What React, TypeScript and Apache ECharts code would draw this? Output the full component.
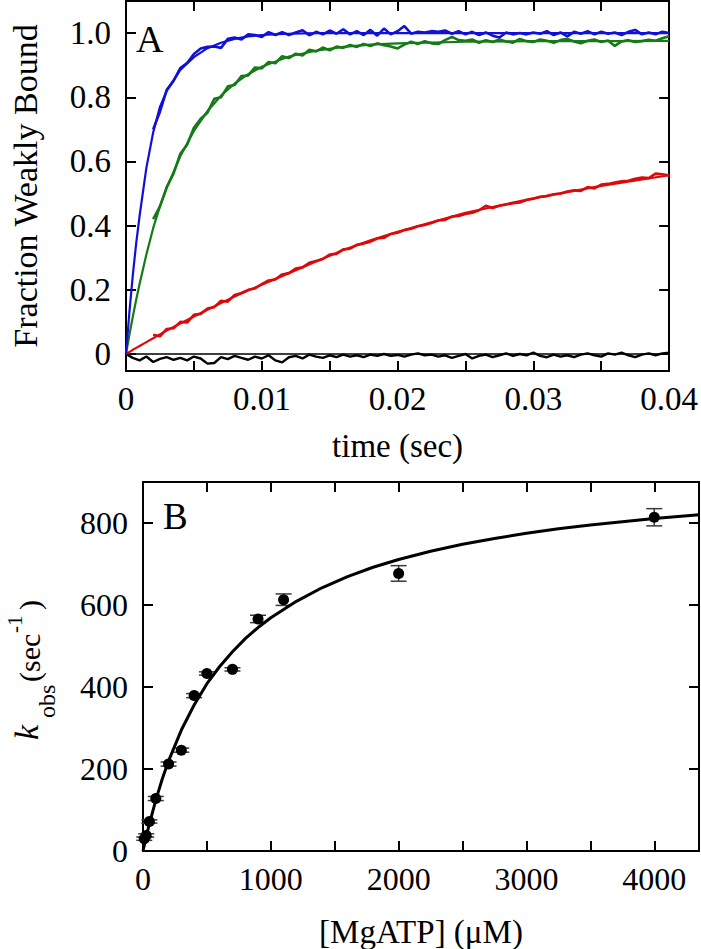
import React, { useEffect, useRef } from 'react';
import * as echarts from 'echarts';

const FONT = 'Liberation Serif';

// ---------- Panel A (time courses) ----------
const TRACE_T0 = 0.002; // colored traces start after dead time
const TRACE_DT = 0.0005;
const BLACK_T0 = 0;

const blueData = [0.70,0.755,0.823,0.851,0.891,0.907,0.935,0.952,0.957,0.958,
  0.954,0.982,0.986,0.98,0.996,0.994,0.988,1.003,0.994,1.003,
  0.994,1.002,1.009,0.993,1.004,0.996,1.008,0.998,1.012,0.996,
  1.006,0.994,1.01,0.992,1.014,0.996,1.006,1.022,0.998,1.004,
  1.002,1.006,1.004,1.008,0.998,1.006,0.996,1.004,0.994,1.002,
  0.992,0.986,1.002,0.996,1.0,0.996,1.002,0.998,1.006,0.994,
  1.002,0.99,1.004,0.998,1.006,0.996,1.004,0.998,1.002,0.994,
  1.004,1.01,0.996,1.002,0.996,1.004,1.0];

const greenData = [0.42,0.46,0.52,0.562,0.624,0.652,0.705,0.733,0.752,0.795,
  0.8,0.834,0.838,0.866,0.868,0.893,0.89,0.91,0.906,0.928,
  0.922,0.936,0.93,0.948,0.943,0.955,0.946,0.958,0.954,0.963,
  0.957,0.966,0.96,0.968,0.962,0.958,0.952,0.964,0.973,0.966,
  0.975,0.968,0.966,0.978,0.988,0.978,0.976,0.98,0.97,0.978,
  0.972,0.98,0.974,0.97,0.982,0.975,0.972,0.98,0.976,0.97,
  0.978,0.982,0.974,0.968,0.976,0.98,0.972,0.977,0.96,0.974,
  0.978,0.972,0.975,0.979,0.976,0.984,0.99];

const redData = [0.06,0.055,0.078,0.08,0.1,0.098,0.122,0.125,0.142,0.146,
  0.166,0.163,0.184,0.19,0.2,0.204,0.218,0.229,0.232,0.248,
  0.252,0.266,0.27,0.284,0.29,0.296,0.31,0.312,0.326,0.328,
  0.34,0.344,0.35,0.36,0.362,0.374,0.378,0.386,0.39,0.398,
  0.402,0.408,0.416,0.418,0.428,0.43,0.436,0.44,0.448,0.462,
  0.455,0.462,0.466,0.47,0.472,0.48,0.484,0.49,0.492,0.498,
  0.5,0.506,0.51,0.508,0.52,0.516,0.528,0.53,0.534,0.538,
  0.54,0.546,0.55,0.548,0.562,0.56,0.556];

const blackData = [0.0,-0.012,-0.02,-0.008,-0.025,-0.015,-0.01,-0.018,-0.012,-0.02,
  -0.008,-0.014,-0.03,-0.028,-0.01,-0.016,-0.006,-0.012,-0.018,-0.008,
  -0.014,-0.004,-0.02,-0.026,-0.01,-0.006,-0.014,-0.002,-0.008,-0.012,
  -0.004,-0.01,-0.002,-0.008,-0.004,-0.01,-0.002,-0.006,0.0,-0.006,
  -0.003,-0.008,-0.002,0.002,-0.004,-0.002,-0.008,-0.004,-0.012,-0.006,
  0.0,-0.014,-0.006,-0.002,-0.01,-0.004,0.002,-0.006,0.0,-0.004,
  0.004,-0.006,-0.01,-0.002,-0.008,-0.004,-0.01,-0.002,0.002,-0.004,
  -0.008,0.002,-0.002,0.004,-0.004,-0.01,-0.002,0.002,-0.004,0.002,
  0.004];

const fitT = [0,0.00025,0.0005,0.00075,0.001,0.0015,0.002,0.0025,0.003,0.004,0.005,0.006,0.007,0.008,0.009,0.01,0.012,0.014,0.016,0.018,0.02,0.025,0.03,0.035,0.04];
const blueFit = [0,0.13,0.245,0.345,0.43,0.58,0.69,0.77,0.82,0.885,0.925,0.953,0.97,0.982,0.99,0.994,0.998,1.0,1.0,1.0,1.0,1.0,1.0,1.0,1.0];
const greenFit = [0,0.06,0.116,0.169,0.218,0.31,0.392,0.46,0.518,0.616,0.695,0.757,0.805,0.843,0.872,0.895,0.927,0.945,0.957,0.964,0.968,0.973,0.975,0.975,0.976];
const redFit = [0,0.006,0.013,0.019,0.025,0.037,0.049,0.061,0.073,0.095,0.117,0.138,0.159,0.179,0.198,0.216,0.252,0.288,0.324,0.354,0.381,0.44,0.485,0.524,0.557];
const blackFit = [0,0,0,0,0,0,0,0,0,0,0,0,0,0,0,0,0,0,0,0,0,0,0,0,0];

const topXTicks = [0,0.005,0.01,0.015,0.02,0.025,0.03,0.035,0.04];
const topXLabels = [0,0.01,0.02,0.03,0.04];
const topYTicks = [0,0.2,0.4,0.6,0.8,1.0];

// ---------- Panel B (kobs vs [MgATP]) ----------
const atpConc = [10,25,50,100,200,300,400,500,700,900,1100,2000,4000];
const kobs = [30,38,72,128,212,246,379,433,443,566,613,677,814];
const kobsErr = [4,4,4,5,5,5,5,4,4,9,14,19,21];
const fitConc = [0,25,50,100,150,200,300,400,500,600,700,800,900,1000,1200,1400,1600,1800,2000,2250,2500,2750,3000,3250,3500,3750,4000,4350];
const fitK = [0,35,66,124,175,220,295,356,408,450,486,518,545,569,609,642,669,692,711,731,748,762,775,786,795,803,811,820];
const botXTicks = [0,500,1000,1500,2000,2500,3000,3500,4000];
const botXLabels = [0,1000,2000,3000,4000];
const botYTicks = [0,200,400,600,800];

const BLUE = '#1010d8';
const GREEN = '#167a16';
const RED = '#dc0a0a';
const BLACK = '#000000';

function trace(t0: number, dt: number, vals: number[]) {
  return vals.map((v, i) => [t0 + i * dt, v]);
}
function pairs(xs: number[], ys: number[]) {
  return xs.map((x, i) => [x, ys[i]]);
}

const axisLine = { show: true, onZero: false, lineStyle: { color: '#000', width: 2 } };
const tick = (vals: number[]) => ({ show: true, inside: true, length: 10, customValues: vals, lineStyle: { color: '#000', width: 2 } });
const label = (vals: number[], fmt: (v: number) => string, margin: number, size: number) =>
  ({ show: true, customValues: vals, formatter: fmt, fontFamily: FONT, fontSize: size, color: '#000', margin });

function buildOption() {
  const lineS = (x: number, y: number, data: number[][], color: string, width: number, z = 2) => ({
    type: 'line', xAxisIndex: x, yAxisIndex: y, data, showSymbol: false, symbol: 'none',
    lineStyle: { color, width }, itemStyle: { color }, z, silent: true,
  });
  const nameStyle = { fontFamily: FONT, fontSize: 33, color: '#000' };
  return {
    animation: false,
    backgroundColor: '#fff',
    textStyle: { fontFamily: FONT },
    grid: [
      { left: 116, top: 1, width: 556, height: 370 },
      { left: 143, top: 482, width: 556, height: 371 },
    ],
    xAxis: [
      { type: 'value', gridIndex: 0, min: 0, max: 0.04, axisLine, axisTick: tick(topXTicks), splitLine: { show: false },
        axisLabel: label(topXLabels, (v: number) => (v === 0 ? '0' : v.toFixed(2)), 11, 33),
        name: 'time (sec)', nameLocation: 'middle', nameGap: 58, nameTextStyle: nameStyle },
      { type: 'value', gridIndex: 0, position: 'top', min: 0, max: 0.04, axisLine, axisTick: tick(topXTicks), splitLine: { show: false }, axisLabel: { show: false } },
      { type: 'value', gridIndex: 1, min: 0, max: 4350, axisLine, axisTick: tick(botXTicks), splitLine: { show: false },
        axisLabel: label(botXLabels, (v: number) => String(v), 12, 32),
        name: '[MgATP] (\u03bcM)', nameLocation: 'middle', nameGap: 64, nameTextStyle: nameStyle },
      { type: 'value', gridIndex: 1, position: 'top', min: 0, max: 4350, axisLine, axisTick: tick(botXTicks), splitLine: { show: false }, axisLabel: { show: false } },
    ],
    yAxis: [
      { type: 'value', gridIndex: 0, min: -0.053, max: 1.1, axisLine, axisTick: tick(topYTicks), splitLine: { show: false },
        axisLabel: label(topYTicks, (v: number) => (v === 0 ? '0' : v.toFixed(1)), 15, 33),
        name: 'Fraction Weakly Bound', nameLocation: 'middle', nameGap: 84, nameTextStyle: { fontFamily: FONT, fontSize: 34, color: '#000' } },
      { type: 'value', gridIndex: 0, position: 'right', min: -0.053, max: 1.1, axisLine, axisTick: tick(topYTicks), splitLine: { show: false }, axisLabel: { show: false } },
      { type: 'value', gridIndex: 1, min: 0, max: 900, axisLine, axisTick: tick(botYTicks), splitLine: { show: false },
        axisLabel: label(botYTicks, (v: number) => String(v), 15, 32) },
      { type: 'value', gridIndex: 1, position: 'right', min: 0, max: 900, axisLine, axisTick: tick(botYTicks), splitLine: { show: false }, axisLabel: { show: false } },
    ],
    series: [
      lineS(0, 0, trace(BLACK_T0, TRACE_DT, blackData), BLACK, 2.4),
      lineS(0, 0, pairs(fitT, blackFit), BLACK, 1.5),
      lineS(0, 0, trace(TRACE_T0, TRACE_DT, redData), RED, 2.6),
      lineS(0, 0, pairs(fitT, redFit), RED, 2.2),
      lineS(0, 0, trace(TRACE_T0, TRACE_DT, greenData), GREEN, 2.6),
      lineS(0, 0, pairs(fitT, greenFit), GREEN, 2.2),
      lineS(0, 0, trace(TRACE_T0, TRACE_DT, blueData), BLUE, 2.6),
      lineS(0, 0, pairs(fitT, blueFit), BLUE, 2.2),
      {
        type: 'custom', xAxisIndex: 2, yAxisIndex: 2, z: 3, silent: true,
        data: atpConc.map((c, i) => [c, kobs[i], kobsErr[i]]),
        renderItem: (params: any, api: any) => {
          const x = api.value(0), y = api.value(1), e = api.value(2);
          const top = api.coord([x, y + e]);
          const bot = api.coord([x, y - e]);
          const hw = 8;
          const st = { stroke: '#3a3a3a', lineWidth: 1.5 };
          return {
            type: 'group',
            children: [
              { type: 'line', shape: { x1: top[0], y1: top[1], x2: bot[0], y2: bot[1] }, style: st },
              { type: 'line', shape: { x1: top[0] - hw, y1: top[1], x2: top[0] + hw, y2: top[1] }, style: st },
              { type: 'line', shape: { x1: bot[0] - hw, y1: bot[1], x2: bot[0] + hw, y2: bot[1] }, style: st },
            ],
          };
        },
      },
      lineS(2, 2, pairs(fitConc, fitK), BLACK, 3, 4),
      {
        type: 'scatter', xAxisIndex: 2, yAxisIndex: 2, z: 5, silent: true,
        data: pairs(atpConc, kobs), symbol: 'circle', symbolSize: 11, itemStyle: { color: '#000', opacity: 1 },
      },
    ],
    graphic: [
      { type: 'text', left: 136, top: 20, style: { text: 'A', fontFamily: FONT, fontSize: 38, fill: '#000' } },
      { type: 'text', left: 163, top: 498, style: { text: 'B', fontFamily: FONT, fontSize: 37, fill: '#000' } },
      {
        type: 'group', x: 38, y: 740, rotation: Math.PI / 2,
        children: [
          { type: 'text', x: 0, y: -12, style: { text: 'k', fontFamily: FONT, fontStyle: 'italic', fontSize: 34, fill: '#000', align: 'left', verticalAlign: 'middle' } },
          { type: 'text', x: 22, y: 9, style: { text: 'obs', fontFamily: FONT, fontSize: 24, fill: '#000', align: 'left', verticalAlign: 'middle' } },
          { type: 'text', x: 58, y: -9, style: { text: '(sec', fontFamily: FONT, fontSize: 30, fill: '#000', align: 'left', verticalAlign: 'middle' } },
          { type: 'text', x: 107, y: -23, style: { text: '-1', fontFamily: FONT, fontSize: 21, fill: '#000', align: 'left', verticalAlign: 'middle' } },
          { type: 'text', x: 130, y: -9, style: { text: ')', fontFamily: FONT, fontSize: 30, fill: '#000', align: 'left', verticalAlign: 'middle' } },
        ],
      },
    ],
  };
}

export default function App() {
  const ref = useRef<HTMLDivElement>(null);
  useEffect(() => {
    const chart = echarts.init(ref.current!, null, { renderer: 'svg' });
    chart.setOption(buildOption() as any);
    return () => chart.dispose();
  }, []);
  return (
    <div
      ref={ref}
      style={{ position: 'absolute', left: 0, top: 0, width: 701, height: 949, background: '#fff' }}
    />
  );
}
